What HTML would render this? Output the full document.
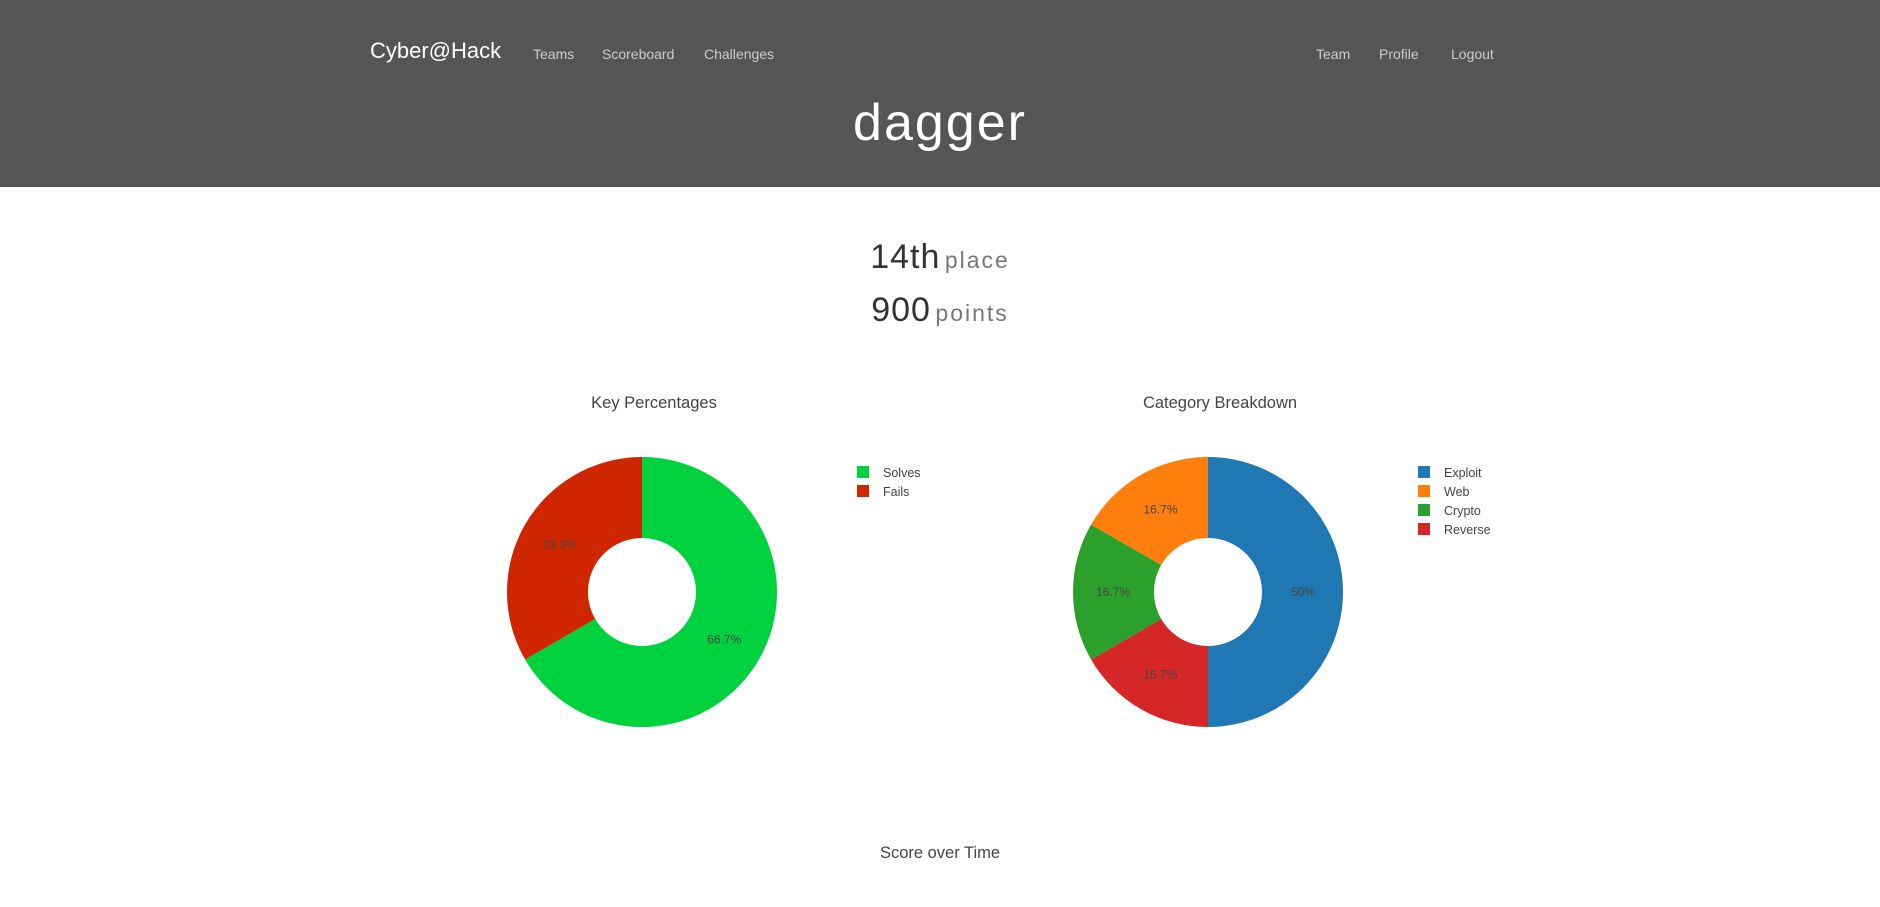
<!DOCTYPE html>
<html><head><meta charset="utf-8">
<style>
body{margin:0;width:1880px;height:907px;overflow:hidden;background:#fff;font-family:"Liberation Sans",sans-serif;position:relative}
.hdr{position:absolute;left:0;top:0;width:1880px;height:187px;background:#555}
.abs{position:absolute;white-space:nowrap}
.nav{color:#ccc;font-size:14px;top:46px}
</style></head><body>
<div class="hdr">
<div class="abs" style="left:370px;top:38px;font-size:22px;color:#fff">Cyber@Hack</div>
<div class="abs nav" style="left:533px">Teams</div>
<div class="abs nav" style="left:602px">Scoreboard</div>
<div class="abs nav" style="left:704px">Challenges</div>
<div class="abs nav" style="left:1316px">Team</div>
<div class="abs nav" style="left:1379px">Profile</div>
<div class="abs nav" style="left:1451px">Logout</div>
<div class="abs" style="left:0;width:1880px;text-align:center;top:93px;font-size:52px;color:#fff;letter-spacing:2px">dagger</div>
</div>
<div class="abs" style="left:0;width:1880px;text-align:center;top:238px;color:#333"><span style="font-size:34px;letter-spacing:1px">14th</span> <span style="font-size:23px;color:#777;letter-spacing:2px">place</span></div>
<div class="abs" style="left:0;width:1880px;text-align:center;top:291px;color:#333"><span style="font-size:34px;letter-spacing:1px">900</span> <span style="font-size:23px;color:#777;letter-spacing:2px">points</span></div>
<svg id="svg" width="1880" height="907" style="position:absolute;left:0;top:0"></svg>
<script>
const keyLabels=["Solves","Fails"];
const keyValues=[2,1];
const keyColors=["#00d13f","#cf2600"];
const catLabels=["Exploit","Reverse","Crypto","Web"];
const catValues=[3,1,1,1];
const catColors=["#1f77b4","#d62728","#2ca02c","#ff7f0e"];
const legendOrder=["Exploit","Web","Crypto","Reverse"];
const NS="http://www.w3.org/2000/svg";
const svg=document.getElementById('svg');
function mk(t,a){const e=document.createElementNS(NS,t);for(const k in a)e.setAttribute(k,a[k]);svg.appendChild(e);return e;}
function pie(name,cx,cy,labels,values,colors,title,legX,legOrder){
  const R=135,r=54;const tot=values.reduce((a,b)=>a+b,0);
  let t=mk('text',{x:cx+12,y:408,'text-anchor':'middle','font-size':16.5,fill:'#444'});t.textContent=title;
  
  
  let a0=0;
  values.forEach((v,i)=>{
    const a1=a0+v/tot*2*Math.PI;
    const p=(a,rr)=>[cx+rr*Math.sin(a),cy-rr*Math.cos(a)];
    const large=(a1-a0)>Math.PI?1:0;
    const [x0,y0]=p(a0,R),[x1,y1]=p(a1,R),[x2,y2]=p(a1,r),[x3,y3]=p(a0,r);
    const s=mk('path',{d:`M${x0},${y0}A${R},${R} 0 ${large} 1 ${x1},${y1}L${x2},${y2}A${r},${r} 0 ${large} 0 ${x3},${y3}Z`,fill:colors[i]});
    
    
    const am=(a0+a1)/2;const [lx,ly]=p(am,95);
    const lt=mk('text',{x:lx,y:ly+4,'text-anchor':'middle','font-size':12,fill:'#444'});
    const pct=v/tot*100;lt.textContent=(Math.round(pct*10)/10)+'%';
    
    
    a0=a1;
  });
  legOrder.forEach((l,j)=>{
    const i=labels.indexOf(l);const y=466+j*19;
    const sq=mk('rect',{x:legX,y:y,width:12,height:12,fill:colors[i]});
    
    
    const tx=mk('text',{x:legX+26,y:y+11,'font-size':12.5,fill:'#444'});tx.textContent=l;
    
    
  });
}
pie('key-pie',642,592,keyLabels,keyValues,keyColors,'Key Percentages',857,keyLabels);
pie('category-pie',1208,592,catLabels,catValues,catColors,'Category Breakdown',1418,legendOrder);
const st=mk('text',{x:940,y:858,'text-anchor':'middle','font-size':16.5,fill:'#444'});st.textContent='Score over Time';


</script>
</body></html>
